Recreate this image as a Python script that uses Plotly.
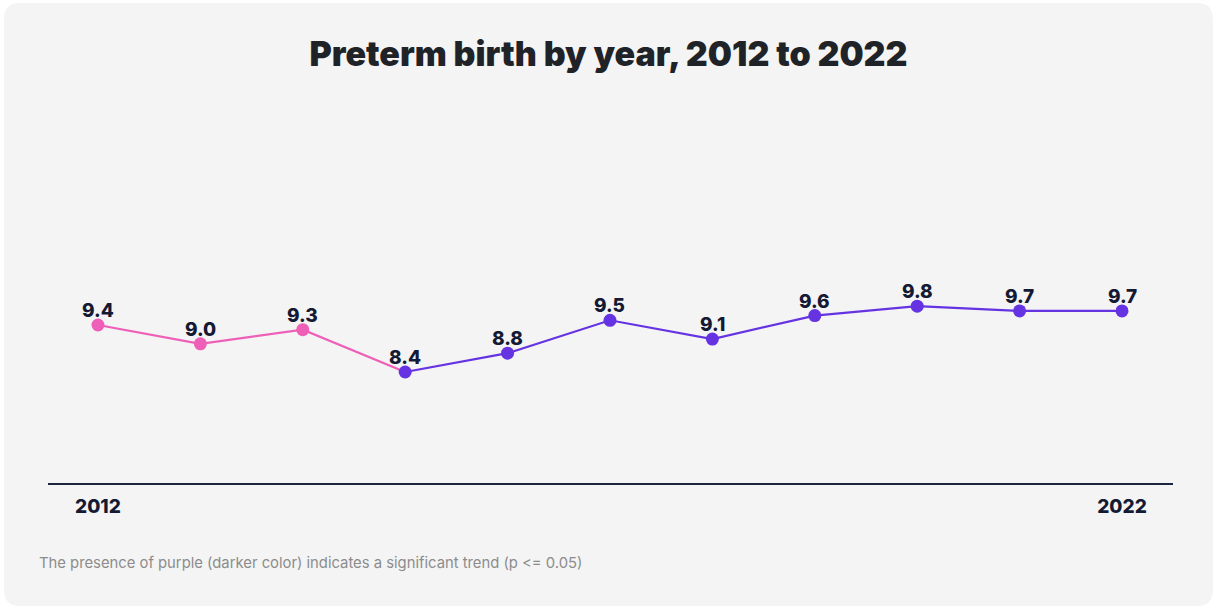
import plotly.graph_objects as go

# Preterm birth rate (%) by year
years = [2012, 2013, 2014, 2015, 2016, 2017, 2018, 2019, 2020, 2021, 2022]
rates = [9.4, 9.0, 9.3, 8.4, 8.8, 9.5, 9.1, 9.6, 9.8, 9.7, 9.7]
significant = [False, False, False, True, True, True, True, True, True, True, True]
tick_years = [2012, 2022]

PINK = "#EE5FB7"
PURPLE = "#6533E2"
NAVY = "#141A33"
CARD = "#F4F4F4"

W, H = 1217, 609
m_l, m_r, m_t, m_b = 48, 44, 100, 126

fig = go.Figure()

# non-significant stretch (pink), running up to the first significant year
first_sig = significant.index(True)
fig.add_trace(go.Scatter(
    x=years[:first_sig + 1], y=rates[:first_sig + 1],
    mode="lines", line=dict(color=PINK, width=2.2),
    hoverinfo="skip", showlegend=False,
))
fig.add_trace(go.Scatter(
    x=years[first_sig:], y=rates[first_sig:],
    mode="lines", line=dict(color=PURPLE, width=2.2),
    hoverinfo="skip", showlegend=False,
))
fig.add_trace(go.Scatter(
    x=years, y=rates,
    mode="markers",
    marker=dict(size=13, color=[PURPLE if s else PINK for s in significant]),
    showlegend=False,
))

# rounded card behind everything (paper coords relative to plot area)
pw = W - m_l - m_r
ph = H - m_t - m_b
def px(x):
    return (x - m_l) / pw
def py(y):
    return 1 - (y - m_t) / ph

x0, y0, x1, y1, r = 4, 3, 1213, 606, 16
path = (
    f"M {px(x0 + r)},{py(y0)} L {px(x1 - r)},{py(y0)} "
    f"Q {px(x1)},{py(y0)} {px(x1)},{py(y0 + r)} "
    f"L {px(x1)},{py(y1 - r)} Q {px(x1)},{py(y1)} {px(x1 - r)},{py(y1)} "
    f"L {px(x0 + r)},{py(y1)} Q {px(x0)},{py(y1)} {px(x0)},{py(y1 - r)} "
    f"L {px(x0)},{py(y0 + r)} Q {px(x0)},{py(y0)} {px(x0 + r)},{py(y0)} Z"
)
fig.add_shape(type="path", path=path, xref="paper", yref="paper",
              fillcolor=CARD, line=dict(width=0), layer="below")

# value labels sitting just above each point
value_labels = [
    dict(x=yr, y=v, xref="x", yref="y", text=f"{v:.1f}",
         showarrow=False, xanchor="center", yanchor="bottom", yshift=1,
         font=dict(family="Inter", size=19, color=NAVY, weight=800))
    for yr, v in zip(years, rates)
]

fig.update_layout(
    width=W, height=H,
    margin=dict(l=m_l, r=m_r, t=m_t, b=m_b),
    paper_bgcolor="white",
    plot_bgcolor="rgba(0,0,0,0)",
    title=dict(
        text="Preterm birth by year, 2012 to 2022",
        x=0.5, xanchor="center", y=1 - 54 / H, yanchor="middle",
        font=dict(family="Inter", size=34, color="#1F2328", weight=900),
    ),
    xaxis=dict(
        range=[2011.512, 2022.498],
        tickmode="array", tickvals=tick_years, ticktext=[str(t) for t in tick_years],
        showgrid=False, zeroline=False,
        showline=True, linecolor="#1C2540", linewidth=2,
        ticks="", ticklen=0, ticklabelstandoff=5,
        tickfont=dict(family="Inter", size=19, color=NAVY, weight=800),
        fixedrange=True,
    ),
    yaxis=dict(
        range=[6.038, 14.187],
        visible=False, showgrid=False, zeroline=False, fixedrange=True,
    ),
    annotations=value_labels + [dict(
        text="The presence of purple (darker color) indicates a significant trend (p <= 0.05)",
        xref="paper", yref="paper", x=px(37), y=py(563),
        xanchor="left", yanchor="middle", showarrow=False,
        font=dict(family="Inter", size=14.8, color="#8C8C8C"),
    )],
)

fig.write_html("out.html")
